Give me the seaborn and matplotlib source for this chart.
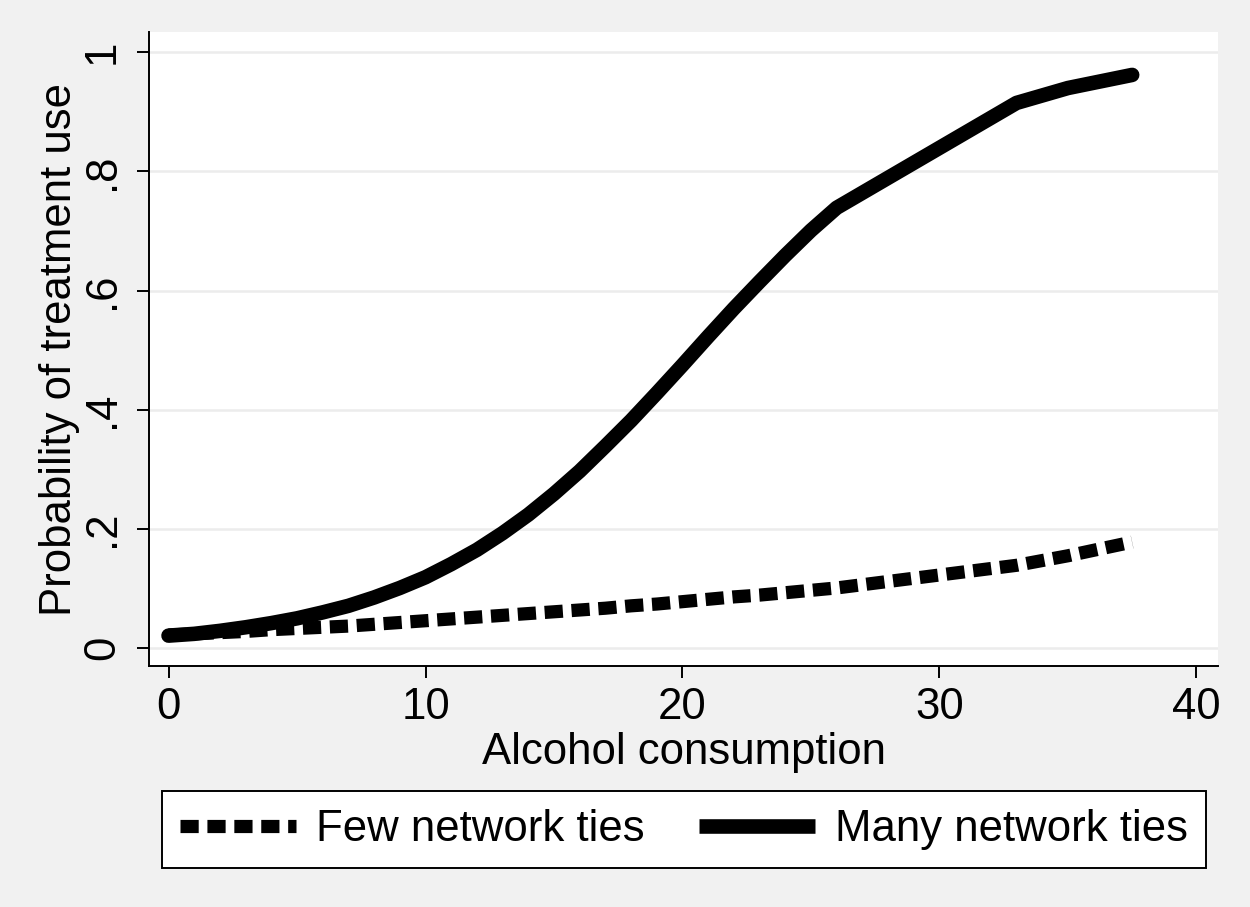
import matplotlib
matplotlib.use("Agg")
import matplotlib.pyplot as plt
import pandas as pd
import seaborn as sns

# values
alcohol = [0, 1, 2, 3, 4, 5, 6, 7, 8, 9, 10, 11, 12, 13, 14, 15, 16, 17, 18,
           19, 20, 21, 22, 23, 24, 25, 26, 33, 35, 37.5]
few_ties = [0.022, 0.024, 0.026, 0.028, 0.031, 0.033, 0.035, 0.037, 0.040, 0.043,
            0.046, 0.049, 0.052, 0.055, 0.058, 0.061, 0.064, 0.067, 0.071, 0.074,
            0.078, 0.082, 0.086, 0.089, 0.093, 0.097, 0.101, 0.139, 0.155, 0.178]
many_ties = [0.021, 0.024, 0.029, 0.035, 0.042, 0.050, 0.060, 0.071, 0.085, 0.101,
             0.119, 0.141, 0.165, 0.193, 0.224, 0.259, 0.297, 0.339, 0.382, 0.428,
             0.475, 0.523, 0.570, 0.615, 0.659, 0.701, 0.739, 0.915, 0.940, 0.962]
series_names = ["Few network ties", "Many network ties"]

x_ticks = [0, 10, 20, 30, 40]
y_ticks = [0, 0.2, 0.4, 0.6, 0.8, 1]
y_tick_labels = ["0", ".2", ".4", ".6", ".8", "1"]
x_label = "Alcohol consumption"
y_label = "Probability of treatment use"

BG = "#f1f1f1"
GRID = "#ececec"
FS = 31.5

df = pd.DataFrame({
    "alcohol": alcohol * 2,
    "prob": few_ties + many_ties,
    "ties": [series_names[0]] * len(alcohol) + [series_names[1]] * len(alcohol),
})

sns.set_style("ticks")
plt.rcParams["font.family"] = ["Liberation Sans", "DejaVu Sans"]
plt.rcParams["text.color"] = "black"
plt.rcParams["axes.labelcolor"] = "black"

fig = plt.figure(figsize=(12.5, 9.07), dpi=100, facecolor=BG)
ax = fig.add_axes([0.1192, 0.2657, 0.8552, 0.699])
ax.set_facecolor("white")

sns.lineplot(data=df, x="alcohol", y="prob", style="ties", style_order=series_names,
             dashes={series_names[0]: (1.38, 0.66), series_names[1]: ""},
             color="black", linewidth=10.5, sort=False, legend=False, ax=ax,
             solid_capstyle="round", solid_joinstyle="round", dash_capstyle="butt")
ax.lines[0].set_linewidth(9.5)

ax.set_xlim(-0.76, 40.84)
ax.set_ylim(-0.030, 1.034)
ax.set_xticks(x_ticks)
ax.set_yticks(y_ticks)
ax.set_yticklabels(y_tick_labels, rotation=90, va="center")

ax.yaxis.grid(True, color=GRID, linewidth=1.8)
ax.xaxis.grid(False)
ax.set_axisbelow(True)

for side in ["top", "right"]:
    ax.spines[side].set_visible(False)
for side in ["left", "bottom"]:
    ax.spines[side].set_linewidth(1.4)
    ax.spines[side].set_color("black")

ax.tick_params(axis="both", direction="out", length=8.3, width=1.4,
               labelsize=FS, colors="black")
ax.tick_params(axis="x", pad=7)
ax.tick_params(axis="y", pad=10.5)

ax.set_xlabel(x_label, fontsize=FS, labelpad=3)
ax.set_ylabel(y_label, fontsize=FS, labelpad=1)

leg = fig.legend(handles=ax.lines[:2], labels=series_names, loc="center",
                 bbox_to_anchor=(0.547, 0.0854), ncol=2, frameon=True,
                 fancybox=False, edgecolor="black", facecolor="white",
                 framealpha=1, handlelength=2.65, handletextpad=0.45,
                 columnspacing=1.25, borderpad=0.42, fontsize=FS)
leg.get_frame().set_linewidth(1.4)
for h in leg.legend_handles:
    h.set_solid_capstyle("butt")

fig.savefig("out.png", dpi=100, facecolor=fig.get_facecolor())
